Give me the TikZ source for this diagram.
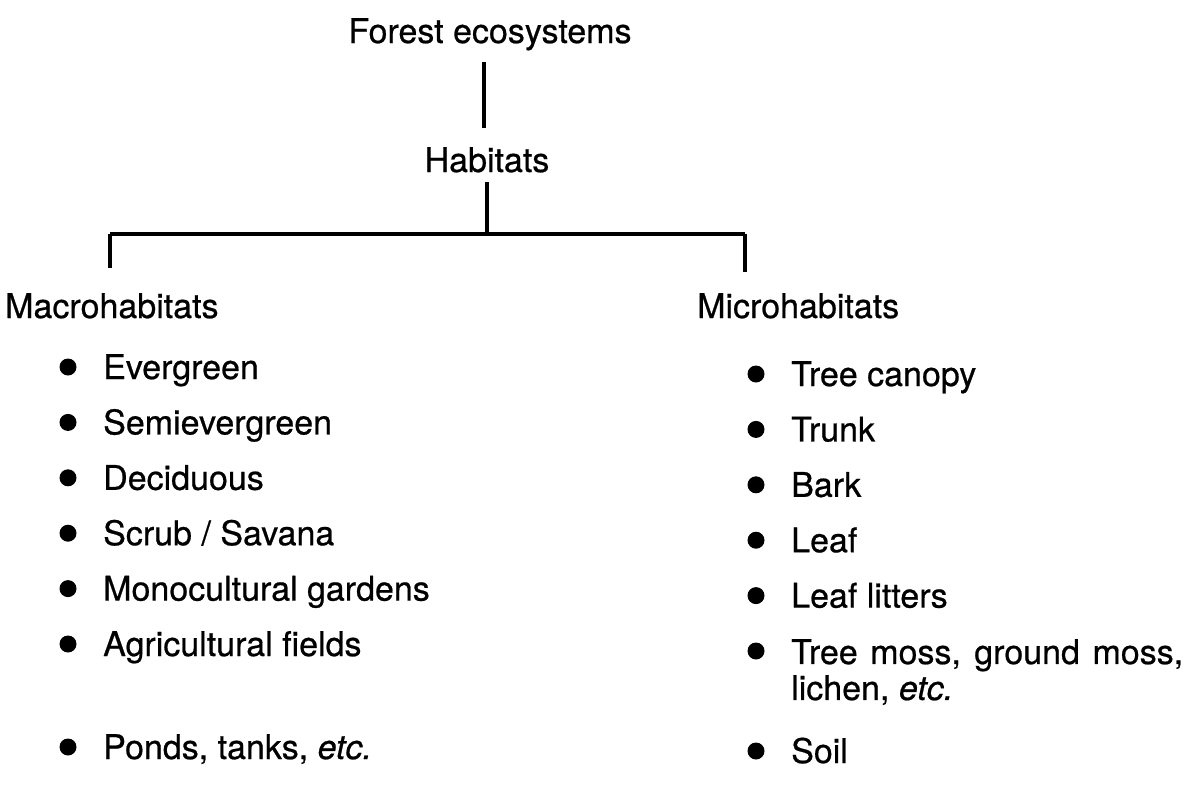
\documentclass[tikz,border=0pt]{standalone}
\usepackage{fontspec}
\setmainfont{TeX Gyre Heros}[UprightFeatures={FakeBold=0.6}, ItalicFeatures={FakeBold=0.6}]
\usetikzlibrary{positioning}
\tikzset{
  head/.style={font=\fontsize{34}{36}\selectfont, inner sep=0pt, anchor=base},
  item/.style={font=\fontsize{34}{36}\selectfont, inner sep=0pt, anchor=base west},
  dot/.style={circle, fill=black, minimum size=17pt, inner sep=0pt},
  link/.style={line width=3.4pt, color=black}
}

\begin{document}
\begin{tikzpicture}[x=1pt, y=-1pt]
  \useasboundingbox (0,0) rectangle (1186,809);

  % tree
  \node[head] (forest) at (490,43) {Forest ecosystems};
  \node[head] (habitats) at (487,172) {Habitats};
  \node[item] (macro) at (5,318) {Macrohabitats};
  \node[item] (micro) at (697,318) {Microhabitats};

  \coordinate (topA) at (484,62);
  \coordinate (topB) at (484,128);
  \coordinate (habB) at (487,182);
  \coordinate (barM) at (487,234);
  \coordinate (barL) at (110,234);
  \coordinate (barR) at (745,234);
  \coordinate (dropL) at (110,268);
  \coordinate (dropR) at (745,272);

  \draw[link] (topA) -- (topB);
  \draw[link] (habB) -- (barM);
  \draw[link] (barL) -- (barR);
  \draw[link] (barL) -- (dropL);
  \draw[link] (barR) -- (dropR);

  % macrohabitats
  \foreach \txt [count=\i] in {Evergreen, Semievergreen, Deciduous, Scrub / Savana, Monocultural gardens, Agricultural fields}{
    \node[dot] (macdot\i) at (68,{367+55.4*(\i-1)}) {};
    \node[item] (mac\i) at (103,{379+55.4*(\i-1)}) {\txt};
  }
  \node[dot] (macdot7) at (68,747) {};
  \node[item] (mac7) at (103,759) {Ponds, tanks, \textit{etc.}};

  % microhabitats
  \foreach \txt [count=\i] in {Tree canopy, Trunk, Bark, Leaf, Leaf litters}{
    \node[dot] (micdot\i) at (756,{374+55.4*(\i-1)}) {};
    \node[item] (mic\i) at (791,{386+55.4*(\i-1)}) {\txt};
  }
  \node[dot] (micdot6) at (756,651) {};
  \node[item, anchor=north west, align=left] (mic6) at (791,639)
    {\makebox[392pt][s]{Tree moss, ground moss,}\\lichen, \textit{etc.}};
  \node[dot] (micdot7) at (756,751) {};
  \node[item] (mic7) at (791,763) {Soil};
\end{tikzpicture}
\end{document}
